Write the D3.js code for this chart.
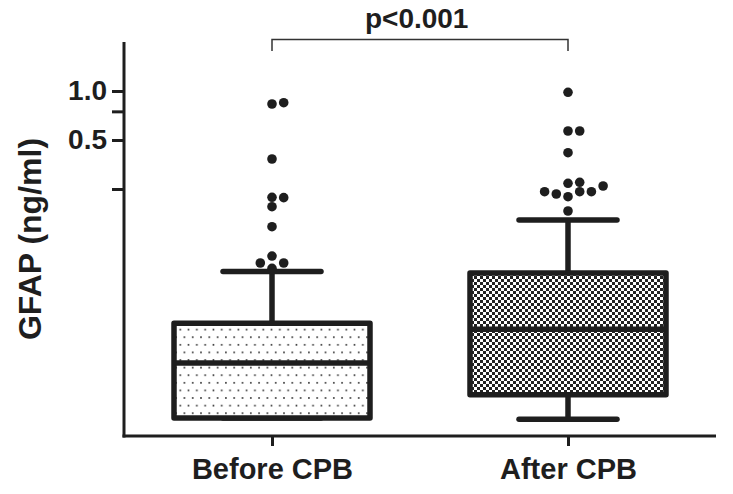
<!DOCTYPE html>
<html><head><meta charset="utf-8">
<script src="https://cdn.jsdelivr.net/npm/d3@7"></script>
<style>
body{margin:0;background:#fff;}
svg text{font-family:"Liberation Sans",Arial,Helvetica,sans-serif;font-weight:bold;fill:#1e1e1e;}
</style>
</head><body>
<svg id="chart" width="733" height="494"></svg>
<script>
// ---- data ----
const categories = ["Before CPB", "After CPB"];
const lowerWhisker = [0.0098, 0.00964];
const q1Values = [0.0098, 0.01363];
const medianValues = [0.02134, 0.03437];
const q3Values = [0.03742, 0.07621];
const upperWhisker = [0.0778, 0.1613];
const outliersBefore = [0.0814, 0.0878, 0.0878, 0.0969, 0.1467, 0.1947, 0.2212, 0.2224, 0.3823, 0.832, 0.8475];
const outliersAfter = [0.1832, 0.2243, 0.2710, 0.2749, 0.2406, 0.2330, 0.2406, 0.2406, 0.2609, 0.4178, 0.5679, 0.5679, 0.9818];
const yTickValues = [0.25, 0.5, 0.75, 1.0];
const yTickLabels = ["", "0.5", "", "1.0"];
const yTitle = "GFAP (ng/ml)";
const pLabel = "p<0.001";

// ---- layout ----
const plotL = 124, plotR = 716, plotT = 42, plotB = 436;
const ink = "#1e1e1e";
const lw = 5.5;

const svg = d3.select("#chart");
const defs = svg.append("defs");

// dotted pattern
const pd = defs.append("pattern").attr("id", "dots").attr("patternUnits", "userSpaceOnUse")
  .attr("width", 8.3).attr("height", 15.2);
pd.append("rect").attr("width", 8.3).attr("height", 15.2).attr("fill", "#fff");
pd.append("rect").attr("x", 1).attr("y", 2).attr("width", 1.6).attr("height", 1.6).attr("fill", "#2a2a2a");
pd.append("rect").attr("x", 5.15).attr("y", 9.6).attr("width", 1.6).attr("height", 1.6).attr("fill", "#2a2a2a");

// checker pattern
const pc = defs.append("pattern").attr("id", "checker").attr("patternUnits", "userSpaceOnUse")
  .attr("width", 6).attr("height", 6);
pc.append("rect").attr("width", 6).attr("height", 6).attr("fill", "#fff");
pc.append("rect").attr("x", 0).attr("y", 0).attr("width", 3).attr("height", 3).attr("fill", "#222");
pc.append("rect").attr("x", 3).attr("y", 3).attr("width", 3).attr("height", 3).attr("fill", "#222");
const fills = ["url(#dots)", "url(#checker)"];

const x = d3.scalePoint().domain(categories).range([plotL, plotR]).padding(0.5);
const y = d3.scaleLog().domain([0.0076, 2]).range([plotB, plotT]);

const boxHalf = 98;
const capHalf = 49;

// ---- boxes ----
categories.forEach((c, i) => {
  const cx = x(c);
  const g = svg.append("g");
  g.append("line").attr("x1", cx).attr("x2", cx).attr("y1", y(upperWhisker[i])).attr("y2", y(q3Values[i]))
    .attr("stroke", ink).attr("stroke-width", lw);
  g.append("line").attr("x1", cx).attr("x2", cx).attr("y1", y(q1Values[i])).attr("y2", y(lowerWhisker[i]))
    .attr("stroke", ink).attr("stroke-width", lw);
  [upperWhisker[i], lowerWhisker[i]].forEach(v => {
    g.append("line").attr("x1", cx - capHalf).attr("x2", cx + capHalf).attr("y1", y(v)).attr("y2", y(v))
      .attr("stroke", ink).attr("stroke-width", lw).attr("stroke-linecap", "round");
  });
  g.append("rect").attr("x", cx - boxHalf).attr("width", 2 * boxHalf)
    .attr("y", y(q3Values[i])).attr("height", y(q1Values[i]) - y(q3Values[i]))
    .attr("fill", fills[i]).attr("stroke", ink).attr("stroke-width", lw).attr("stroke-linejoin", "round");
  g.append("line").attr("x1", cx - boxHalf).attr("x2", cx + boxHalf)
    .attr("y1", y(medianValues[i])).attr("y2", y(medianValues[i]))
    .attr("stroke", ink).attr("stroke-width", lw);
});

// ---- outliers (simple swarm placement) ----
const step = 11.7, minDist = 9.2, dotR = 4.8;
function swarm(values, cx) {
  const placed = [];
  const offsets = [0];
  for (let k = 1; k < 8; k++) { offsets.push(k, -k); }
  values.forEach(v => {
    const py = y(v);
    for (const o of offsets) {
      const px = cx + o * step;
      const hit = placed.some(p => Math.hypot(p.x - px, p.y - py) < minDist);
      if (!hit) { placed.push({x: px, y: py}); break; }
    }
  });
  return placed;
}
[outliersBefore, outliersAfter].forEach((vals, i) => {
  svg.append("g").selectAll("circle").data(swarm(vals, x(categories[i]))).join("circle")
    .attr("cx", d => d.x).attr("cy", d => d.y).attr("r", dotR).attr("fill", ink);
});

// ---- axes ----
const yAxis = svg.append("g").attr("transform", `translate(${plotL},0)`)
  .call(d3.axisLeft(y).tickValues(yTickValues).tickFormat((d, i) => yTickLabels[i])
    .tickSize(12).tickPadding(5).tickSizeOuter(0));
const xAxis = svg.append("g").attr("transform", `translate(0,${plotB})`)
  .call(d3.axisBottom(x).tickSize(10).tickPadding(12).tickSizeOuter(0));
[yAxis, xAxis].forEach(a => {
  a.select(".domain").attr("stroke", ink).attr("stroke-width", 3);
  a.selectAll(".tick line").attr("stroke", ink).attr("stroke-width", 3);
  a.selectAll(".tick text").attr("fill", ink).style("font-size", "28px")
    .style("font-family", '"Liberation Sans",Arial,sans-serif').style("font-weight", "bold");
});
xAxis.selectAll(".tick text").style("font-size", "29px");
yAxis.select(".domain").attr("d", `M0,${plotB + 1.5}V${plotT}`);
xAxis.select(".domain").attr("d", `M${plotL - 1.5},0H${plotR}`);

// y title
svg.append("text").attr("transform", `translate(40.5,${(plotT + plotB) / 2}) rotate(-90)`)
  .attr("text-anchor", "middle").style("font-size", "32px").text(yTitle);

// significance bracket
const bx1 = x(categories[0]), bx2 = x(categories[1]);
svg.append("path").attr("d", `M${bx1},51V39.5H${bx2}V51`).attr("fill", "none")
  .attr("stroke", "#333").attr("stroke-width", 1.5);
svg.append("text").attr("x", (bx1 + bx2) / 2 - 3.3).attr("y", 28).attr("text-anchor", "middle")
  .style("font-size", "28px").text(pLabel);
</script>
</body></html>
